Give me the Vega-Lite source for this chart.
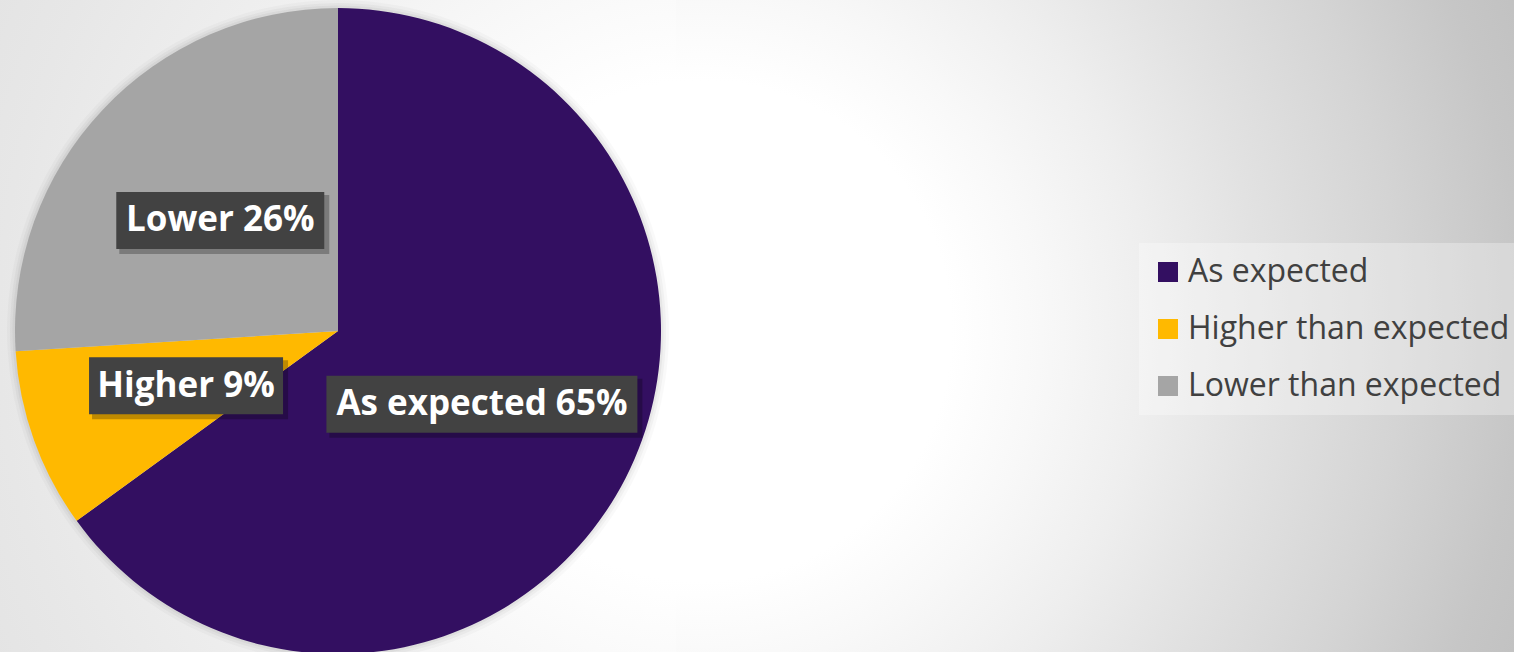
{
  "$schema": "https://vega.github.io/schema/vega-lite/v6.json",
  "padding": 0,
  "spacing": 0,
  "background": "#e9e9e9",
  "config": {"view": {"stroke": null}, "font": "Open Sans"},
  "hconcat": [
    {
      "width": 676,
      "height": 662,
      "view": {
        "stroke": null,
        "fill": {
          "gradient": "radial",
          "x1": 1.036, "y1": 0.5, "r1": 0,
          "x2": 1.036, "y2": 0.5, "r2": 1.154,
          "stops": [
            {"offset": 0, "color": "#ffffff"},
            {"offset": 0.32, "color": "#ffffff"},
            {"offset": 0.58, "color": "#f3f3f3"},
            {"offset": 0.9, "color": "#e7e7e7"},
            {"offset": 1, "color": "#e4e4e4"}
          ]
        }
      },
      "data": {
        "values": [
          {"category": "As expected", "value": 65, "label": "As expected 65%"},
          {"category": "Higher than expected", "value": 9, "label": "Higher 9%"},
          {"category": "Lower than expected", "value": 26, "label": "Lower 26%"}
        ]
      },
      "layer": [
        {
          "mark": {"type": "arc", "outerRadius": 331, "color": "#000000", "opacity": 0.025},
          "encoding": {
            "theta": {"field": "value", "type": "quantitative", "stack": true},
            "detail": {"field": "category", "type": "nominal"}
          }
        },
        {
          "mark": {"type": "arc", "outerRadius": 328, "color": "#000000", "opacity": 0.03},
          "encoding": {
            "theta": {"field": "value", "type": "quantitative", "stack": true},
            "detail": {"field": "category", "type": "nominal"}
          }
        },
        {
          "mark": {"type": "arc", "outerRadius": 325.5, "color": "#000000", "opacity": 0.04},
          "encoding": {
            "theta": {"field": "value", "type": "quantitative", "stack": true},
            "detail": {"field": "category", "type": "nominal"}
          }
        },
        {
          "mark": {"type": "arc", "outerRadius": 323, "strokeWidth": 0},
          "encoding": {
            "theta": {"field": "value", "type": "quantitative", "stack": true},
            "color": {
              "field": "category",
              "type": "nominal",
              "scale": {
                "domain": ["As expected", "Higher than expected", "Lower than expected"],
                "range": ["#330f61", "#ffb900", "#a5a5a5"]
              },
              "legend": {
                "title": null,
                "orient": "none",
                "legendX": 1139,
                "legendY": 243,
                "padding": 13,
                "fillColor": "rgba(255,255,255,0.3)",
                "symbolType": "square",
                "symbolSize": 400,
                "symbolStrokeWidth": 0,
                "symbolOpacity": 1,
                "labelFont": "Open Sans",
                "labelFontSize": 32,
                "labelColor": "#404040",
                "labelOffset": 4,
                "rowPadding": 25,
                "labelLimit": 600
              }
            }
          }
        },
        {
          "transform": [
            {"window": [{"op": "sum", "field": "value", "as": "cum"}], "sort": [{"field": "category", "order": "ascending"}]},
            {"joinaggregate": [{"op": "sum", "field": "value", "as": "total"}]},
            {"calculate": "2*PI*(datum.cum - datum.value/2)/datum.total", "as": "mid"},
            {"calculate": "161.5*sin(datum.mid)", "as": "bx"},
            {"calculate": "161.5*cos(datum.mid)", "as": "by"}
          ],
          "mark": {"type": "point", "filled": true, "size": 4, "color": "#000000", "opacity": 0.25, "strokeWidth": 0},
          "encoding": {
            "x": {"field": "bx", "type": "quantitative", "scale": {"domain": [-338, 338], "nice": false}, "axis": null},
            "y": {"field": "by", "type": "quantitative", "scale": {"domain": [-331, 331], "nice": false}, "axis": null},
            "shape": {
              "field": "label",
              "type": "nominal",
              "scale": {
                "domain": ["As expected 65%", "Higher 9%", "Lower 26%"],
                "range": [
                  "M-152.5,-25.5H160.5V33.5H-152.5Z",
                  "M-94,-25.5H102V33.5H-94Z",
                  "M-101,-25.5H109V33.5H-101Z"
                ]
              },
              "legend": null
            }
          }
        },
        {
          "transform": [
            {"window": [{"op": "sum", "field": "value", "as": "cum"}], "sort": [{"field": "category", "order": "ascending"}]},
            {"joinaggregate": [{"op": "sum", "field": "value", "as": "total"}]},
            {"calculate": "2*PI*(datum.cum - datum.value/2)/datum.total", "as": "mid"},
            {"calculate": "161.5*sin(datum.mid)", "as": "bx"},
            {"calculate": "161.5*cos(datum.mid)", "as": "by"}
          ],
          "mark": {"type": "point", "filled": true, "size": 4, "color": "#424242", "opacity": 1, "strokeWidth": 0},
          "encoding": {
            "x": {"field": "bx", "type": "quantitative", "scale": {"domain": [-338, 338], "nice": false}, "axis": null},
            "y": {"field": "by", "type": "quantitative", "scale": {"domain": [-331, 331], "nice": false}, "axis": null},
            "shape": {
              "field": "label",
              "type": "nominal",
              "scale": {
                "domain": ["As expected 65%", "Higher 9%", "Lower 26%"],
                "range": [
                  "M-155.5,-28.5H155.5V28.5H-155.5Z",
                  "M-97,-28.5H97V28.5H-97Z",
                  "M-104,-28.5H104V28.5H-104Z"
                ]
              },
              "legend": null
            }
          }
        },
        {
          "mark": {"type": "text", "radius": 161.5, "font": "Open Sans", "fontWeight": "bold", "fontSize": 35, "color": "#ffffff", "align": "center", "baseline": "middle"},
          "encoding": {
            "theta": {"field": "value", "type": "quantitative", "stack": true},
            "detail": {"field": "category", "type": "nominal"},
            "text": {"field": "label", "type": "nominal"}
          }
        }
      ],
      "resolve": {"scale": {"shape": "independent"}}
    },
    {
      "width": 838,
      "height": 662,
      "view": {
        "stroke": null,
        "fill": {
          "gradient": "radial",
          "x1": 0.03, "y1": 0.5, "r1": 0,
          "x2": 0.03, "y2": 0.5, "r2": 1.074,
          "stops": [
            {"offset": 0, "color": "#ffffff"},
            {"offset": 0.278, "color": "#ffffff"},
            {"offset": 0.378, "color": "#f8f8f8"},
            {"offset": 0.5, "color": "#eeeeee"},
            {"offset": 0.622, "color": "#e2e2e2"},
            {"offset": 0.778, "color": "#d4d4d4"},
            {"offset": 0.911, "color": "#c6c6c6"},
            {"offset": 1, "color": "#c0c0c0"}
          ]
        }
      },
      "data": {"values": []},
      "mark": "point"
    }
  ]
}
